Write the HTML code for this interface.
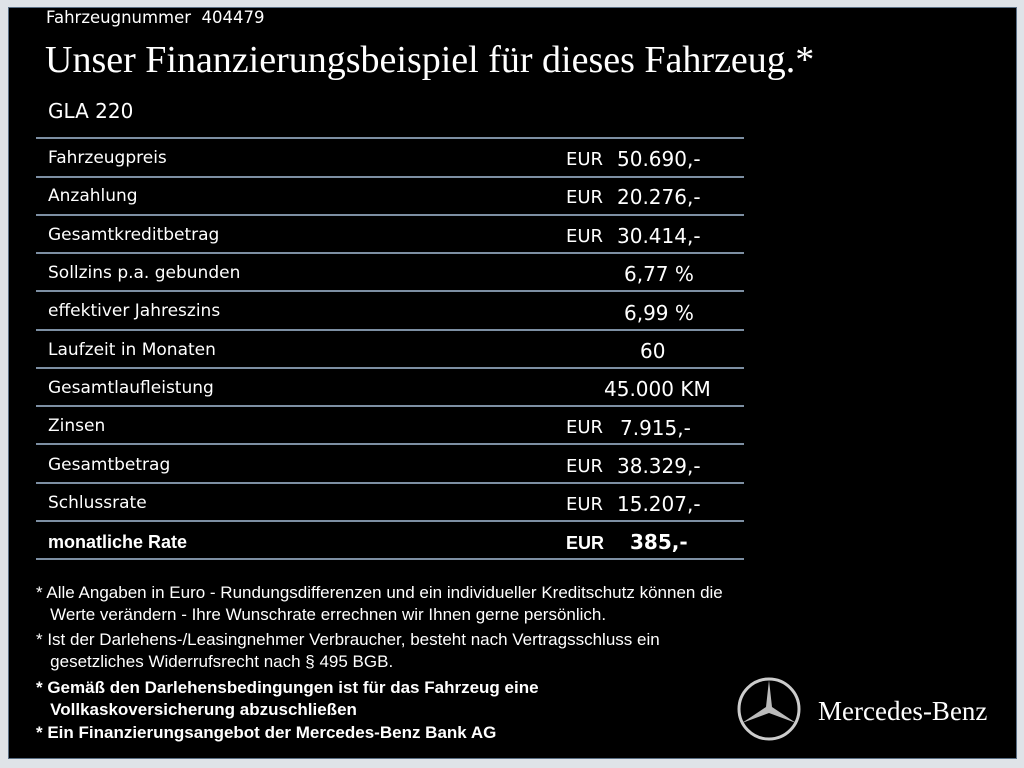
<!DOCTYPE html>
<html><head><meta charset="utf-8"><style>
body{margin:0;width:1024px;height:768px;background:#dfe3e8;position:relative;overflow:hidden;font-family:"DejaVu Sans","Liberation Sans",sans-serif;color:#fff}
#p{position:absolute;left:8px;top:7px;width:1007px;height:750px;background:#000;border:1px solid #5a6f85}
.a{position:absolute;white-space:nowrap}
.ln{position:absolute;left:36px;width:708px;height:2px;background:#7d8fa3}
.l{position:absolute;left:48px;font-size:17px}
.e{position:absolute;left:566px;font-size:18px}
.v{position:absolute;font-size:20px}
.f{position:absolute;left:36px;font-family:"Liberation Sans",sans-serif;font-size:17px;line-height:22px}
</style></head><body><div id="p"></div>
<div class="a" style="left:46px;top:8px;font-size:16.5px">Fahrzeugnummer&nbsp; 404479</div>
<div class="a" style="left:45px;top:38px;font-family:'Liberation Serif',serif;font-size:38px">Unser Finanzierungsbeispiel für dieses Fahrzeug.*</div>
<div class="a" style="left:48px;top:99px;font-size:20px">GLA 220</div>
<div class="ln" style="top:137px"></div><div class="ln" style="top:176px"></div><div class="ln" style="top:214px"></div><div class="ln" style="top:252px"></div><div class="ln" style="top:290px"></div><div class="ln" style="top:329px"></div><div class="ln" style="top:367px"></div><div class="ln" style="top:405px"></div><div class="ln" style="top:443px"></div><div class="ln" style="top:482px"></div><div class="ln" style="top:520px"></div><div class="ln" style="top:558px"></div>
<div class="l" style="top:148px">Fahrzeugpreis</div><div class="e" style="top:149px">EUR</div><div class="v" style="left:617px;top:147px">50.690,-</div>
<div class="l" style="top:186px">Anzahlung</div><div class="e" style="top:187px">EUR</div><div class="v" style="left:617px;top:185px">20.276,-</div>
<div class="l" style="top:225px">Gesamtkreditbetrag</div><div class="e" style="top:226px">EUR</div><div class="v" style="left:617px;top:224px">30.414,-</div>
<div class="l" style="top:263px">Sollzins p.a. gebunden</div><div class="v" style="left:624px;top:262px">6,77 %</div>
<div class="l" style="top:301px">effektiver Jahreszins</div><div class="v" style="left:624px;top:301px">6,99 %</div>
<div class="l" style="top:340px">Laufzeit in Monaten</div><div class="v" style="left:640px;top:339px">60</div>
<div class="l" style="top:378px">Gesamtlaufleistung</div><div class="v" style="left:604px;top:377px">45.000 KM</div>
<div class="l" style="top:416px">Zinsen</div><div class="e" style="top:417px">EUR</div><div class="v" style="left:620px;top:416px">7.915,-</div>
<div class="l" style="top:455px">Gesamtbetrag</div><div class="e" style="top:456px">EUR</div><div class="v" style="left:617px;top:454px">38.329,-</div>
<div class="l" style="top:493px">Schlussrate</div><div class="e" style="top:494px">EUR</div><div class="v" style="left:617px;top:492px">15.207,-</div>
<div class="l" style="top:532px;font-family:'Liberation Sans',sans-serif;font-weight:bold;font-size:18px">monatliche Rate</div><div class="e" style="top:533px;font-family:'Liberation Sans',sans-serif;font-weight:bold;font-size:18px">EUR</div><div class="v" style="left:630px;top:530px;font-weight:bold">385,-</div>
<div class="f" style="top:582px">* Alle Angaben in Euro - Rundungsdifferenzen und ein individueller Kreditschutz können die<br>&nbsp;&nbsp;&nbsp;Werte verändern - Ihre Wunschrate errechnen wir Ihnen gerne persönlich.</div>
<div class="f" style="top:629px">* Ist der Darlehens-/Leasingnehmer Verbraucher, besteht nach Vertragsschluss ein<br>&nbsp;&nbsp;&nbsp;gesetzliches Widerrufsrecht nach § 495 BGB.</div>
<div class="f" style="top:677px;font-weight:bold">* Gemäß den Darlehensbedingungen ist für das Fahrzeug eine<br>&nbsp;&nbsp;&nbsp;Vollkaskoversicherung abzuschließen</div>
<div class="f" style="top:722px;font-weight:bold">* Ein Finanzierungsangebot der Mercedes-Benz Bank AG</div>
<svg class="a" style="left:736px;top:676px" width="66" height="66" viewBox="0 0 66 66"><circle cx="33" cy="33" r="30" fill="none" stroke="#ccc" stroke-width="3"/><polygon points="33,4 36,31 60,47 33,37 6,47 30,31" fill="#bbb"/></svg>
<div class="a" style="left:818px;top:696px;font-family:'Liberation Serif',serif;font-size:27px">Mercedes-Benz</div>
</body></html>
